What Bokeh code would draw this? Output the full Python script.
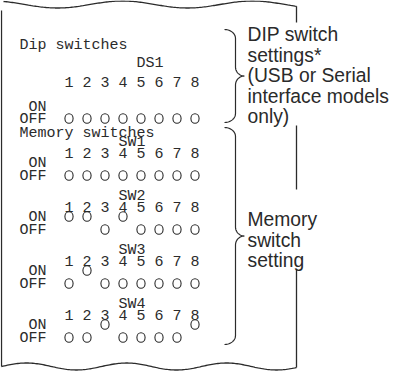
import numpy as np
from bokeh.plotting import figure
from bokeh.models import Range1d, ColumnDataSource
from bokeh.core.properties import value
from bokeh.embed import file_html
from bokeh.resources import INLINE

# ---------------- data ----------------
switch_numbers = [1, 2, 3, 4, 5, 6, 7, 8]
group_names = ["DS1", "SW1", "SW2", "SW3", "SW4"]
ds1_state = [0, 0, 0, 0, 0, 0, 0, 0]
sw1_state = [0, 0, 0, 0, 0, 0, 0, 0]
sw2_state = [1, 1, 0, 1, 0, 0, 0, 0]
sw3_state = [0, 1, 0, 0, 0, 0, 0, 0]
sw4_state = [0, 0, 1, 0, 0, 0, 0, 1]
section_titles = ["Dip switches", "Memory switches"]
state_labels = ["ON", "OFF"]
note_dip = ["DIP switch", "settings*", "(USB or Serial", "interface models", "only)"]
note_mem = ["Memory", "switch", "setting"]

states = [ds1_state, sw1_state, sw2_state, sw3_state, sw4_state]

# ---------------- layout (page pixel space) ----------------
FW, FH = 389, 371
INK = "#2b2b2b"
MONO = value("Liberation Mono")
SANS = value("Liberation Sans")
mono_size = "15px"
sans_size = "19.3px"
CW, X0 = 9.0, 27.0


def colx(c):
    return X0 + CW * c


def swx(n):
    return colx(5 + 2 * (n - 1))


# rows per group: (label_y, digits_y, on_y, off_y, label_col)
rows = [(71, 89, 115, 127, 13)]
for k in range(4):
    d = 160 + 54 * k
    rows.append((d - 10, d, d + 11, d + 24, 11))
title_rows = [(53, 0), (141, 0)]

p = figure(width=FW, height=FH, x_range=Range1d(8, 8 + FW), y_range=Range1d(8 + FH, 8),
           output_backend="svg", toolbar_location=None, min_border=0)
p.axis.visible = False
p.grid.visible = False
p.outline_line_color = None
p.background_fill_color = "white"
p.border_fill_color = "white"

# paper outline
LW = 1.3
p.line([9, 9], [18, 374], line_color=INK, line_width=LW)
xt = np.linspace(11, 304, 200)
yt = 12 - 3.5 * np.cos(2 * np.pi * xt / 130)
p.line(xt, yt, line_color=INK, line_width=LW)
xb = np.linspace(9, 304, 200)
yb = 374 - 3.5 * np.sin(2 * np.pi * (xb - 9) / 100)
p.line(xb, yb, line_color=INK, line_width=LW)
for y0, y1 in [(yt[-1], 30), (133, 197), (277, yb[-1])]:
    p.line([304, 304], [y0, y1], line_color=INK, line_width=LW)


# braces
def brace(xs, y0, y1, hook=11, r=9, tipw=9, r2=9):
    ym = (y0 + y1) / 2
    t = np.linspace(0, np.pi / 2, 20)
    X, Y = [], []
    X += list(xs - hook + hook * np.sin(t)); Y += list(y0 + r - r * np.cos(t))
    X += list(xs + tipw - tipw * np.cos(t)); Y += list(ym - r2 + r2 * np.sin(t))
    X += list((xs + tipw - tipw * np.cos(t))[::-1]); Y += list((ym + r2 - r2 * np.sin(t))[::-1])
    X += list((xs - hook + hook * np.sin(t))[::-1]); Y += list((y1 - r + r * np.cos(t))[::-1])
    return X, Y


for (b0, b1) in [(37, 130), (135, 352)]:
    bx, by = brace(243, b0, b1)
    p.line(bx, by, line_color=INK, line_width=1.2)

# titles
for (ty, tc), txt in zip(title_rows, section_titles):
    p.text(x=[colx(tc)], y=[ty], text=[txt], text_font=MONO, text_font_size=mono_size,
           text_baseline="middle", text_align="left", text_color=INK)

# switch blocks
for name, st, (ly, dy, ony, offy, lc) in zip(group_names, states, rows):
    p.text(x=[colx(lc)], y=[ly], text=[name], text_font=MONO, text_font_size=mono_size,
           text_baseline="middle", text_align="left", text_color=INK)
    p.text(x=[swx(n) for n in switch_numbers], y=[dy] * 8, text=[str(n) for n in switch_numbers],
           text_font=MONO, text_font_size=mono_size, text_baseline="middle",
           text_align="left", text_color=INK)
    p.text(x=[colx(1), colx(0)], y=[ony, offy], text=state_labels, text_font=MONO,
           text_font_size=mono_size, text_baseline="middle", text_align="left", text_color=INK)
    src = ColumnDataSource(dict(
        x=[swx(n) + CW / 2 for n in switch_numbers],
        y=[(ony if s else offy) - 1 for s in st]))
    p.ellipse(x="x", y="y", width=8.2, height=9.6, source=src, fill_color=None,
              line_color=INK, line_width=1.1)

# notes on the right
for i, txt in enumerate(note_dip):
    p.text(x=[255], y=[42 + 20.5 * i], text=[txt], text_font=SANS, text_font_size=sans_size,
           text_baseline="middle", text_align="left", text_color="#2a2a2a")
for i, txt in enumerate(note_mem):
    p.text(x=[255], y=[227 + 20.5 * i], text=[txt], text_font=SANS, text_font_size=sans_size,
           text_baseline="middle", text_align="left", text_color="#2a2a2a")

open("out.html", "w").write(file_html(p, INLINE))
